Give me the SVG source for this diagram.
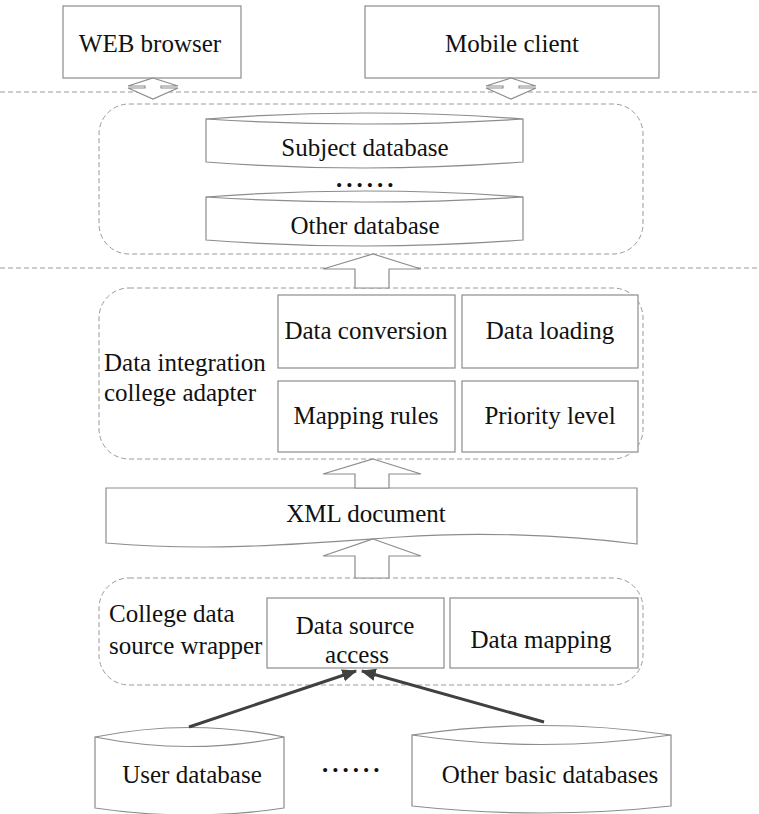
<svg xmlns="http://www.w3.org/2000/svg" width="759" height="814" viewBox="0 0 759 814">
  <style>
    .box { fill: #ffffff; stroke: #8c8c8c; stroke-width: 1.2; }
    .layer { fill: none; stroke: #9a9a9a; stroke-width: 1; stroke-dasharray: 5 3; }
    .divider { fill: none; stroke: #9a9a9a; stroke-width: 1; stroke-dasharray: 5 3; }
    .block { fill: #ffffff; stroke: #8c8c8c; stroke-width: 1.2; stroke-linejoin: miter; }
    .link { fill: none; stroke: #404040; stroke-width: 3; }
    text { font-family: "Liberation Serif", "Times New Roman", serif; font-size: 25px; fill: #111111; }
    .c { text-anchor: middle; }
    .dots { font-weight: bold; letter-spacing: 4px; }
  </style>
  <defs>
    <marker id="head" viewBox="0 0 12 10" refX="11" refY="5" markerWidth="5" markerHeight="5" markerUnits="strokeWidth" orient="auto">
      <path d="M0,0 L12,5 L0,10 Z" fill="#404040"/>
    </marker>
  </defs>

  <rect width="759" height="814" fill="#ffffff"/>

  <!-- layer dividers -->
  <line class="divider" x1="0" y1="92" x2="759" y2="92"/>
  <line class="divider" x1="0" y1="268" x2="759" y2="268"/>

  <!-- client tier -->
  <g id="web-browser">
    <rect class="box" x="63" y="6" width="178" height="72"/>
    <text class="c" x="150" y="52">WEB browser</text>
  </g>
  <g id="mobile-client">
    <rect class="box" x="365" y="6" width="294" height="72"/>
    <text class="c" x="512" y="52">Mobile client</text>
  </g>

  <!-- subject database tier -->
  <g id="database-layer">
    <rect class="layer" x="99" y="104" width="544" height="150" rx="30" ry="30"/>
  </g>
  <g id="subject-database">
    <path class="box" d="M206,119 Q365,107 523,119 V162 Q365,174 206,162 Z"/>
    <path class="box" fill="none" d="M206,119 Q365,129 523,119"/>
    <text class="c" x="365" y="156">Subject database</text>
  </g>
  <text class="dots" x="336" y="187">......</text>
  <g id="other-database">
    <path class="box" d="M206,197 Q365,185 523,197 V240 Q365,252 206,240 Z"/>
    <path class="box" fill="none" d="M206,197 Q365,207 523,197"/>
    <text class="c" x="365" y="234">Other database</text>
  </g>

  <!-- integration adapter tier -->
  <g id="integration-adapter">
    <rect class="layer" x="99" y="288" width="544" height="171" rx="30" ry="30"/>
    <text x="104" y="371">Data integration</text>
    <text x="104" y="401">college adapter</text>
  </g>
  <g id="data-conversion">
    <rect class="box" x="278" y="295" width="177" height="73"/>
    <text class="c" x="366" y="339">Data conversion</text>
  </g>
  <g id="data-loading">
    <rect class="box" x="462" y="295" width="176" height="73"/>
    <text class="c" x="550" y="339">Data loading</text>
  </g>
  <g id="mapping-rules">
    <rect class="box" x="278" y="381" width="177" height="71"/>
    <text class="c" x="366" y="424">Mapping rules</text>
  </g>
  <g id="priority-level">
    <rect class="box" x="462" y="381" width="176" height="71"/>
    <text class="c" x="550" y="424">Priority level</text>
  </g>

  <!-- XML document -->
  <g id="xml-document">
    <path class="box" d="M106,488 H637 V544 C560,534 470,532 400,537 C300,544 210,552 106,543 Z"/>
    <text class="c" x="366" y="522">XML document</text>
  </g>

  <!-- data source wrapper tier -->
  <g id="source-wrapper">
    <rect class="layer" x="99" y="578" width="544" height="107" rx="30" ry="30"/>
    <text x="109" y="622">College data</text>
    <text x="109" y="654">source wrapper</text>
  </g>
  <g id="data-source-access">
    <rect class="box" x="267" y="598" width="177" height="70"/>
    <text class="c" x="355" y="634">Data source</text>
    <text class="c" x="357" y="663">access</text>
  </g>
  <g id="data-mapping">
    <rect class="box" x="450" y="598" width="188" height="70"/>
    <text class="c" x="541" y="648">Data mapping</text>
  </g>

  <!-- base databases -->
  <g id="user-database">
    <path class="box" d="M95,737 Q190,718 284,737 V808 Q190,822 95,808 Z"/>
    <path class="box" fill="none" d="M95,737 Q190,756 284,737"/>
    <text class="c" x="192" y="783">User database</text>
  </g>
  <text class="dots" x="322" y="772">......</text>
  <g id="other-basic-databases">
    <path class="box" d="M412,735 Q541,716 671,735 V806 Q541,820 412,806 Z"/>
    <path class="box" fill="none" d="M412,735 Q541,754 671,735"/>
    <text class="c" x="550" y="783">Other basic databases</text>
  </g>

  <!-- connectors -->
  <g id="connectors">
    <!-- two-way links from clients -->
    <polygon class="block" points="153,78 178,86 161,86 161,88 178,88 153,99 128,88 145,88 145,86 128,86"/>
    <polygon class="block" points="511,78 536,86 519,86 519,88 536,88 511,99 486,88 503,88 503,86 486,86"/>
    <!-- upward block arrows between tiers -->
    <polygon class="block" points="373,254 421,269 389,269 389,288 355,288 355,269 323,269"/>
    <polygon class="block" points="373,459 421,474 389,474 389,488 355,488 355,474 323,474"/>
    <polygon class="block" points="373,539 421,556 389,556 389,578 355,578 355,556 323,556"/>
    <!-- source databases feeding the access module -->
    <line class="link" x1="189" y1="727" x2="356" y2="671" marker-end="url(#head)"/>
    <line class="link" x1="544" y1="722" x2="362" y2="671" marker-end="url(#head)"/>
  </g>
</svg>
